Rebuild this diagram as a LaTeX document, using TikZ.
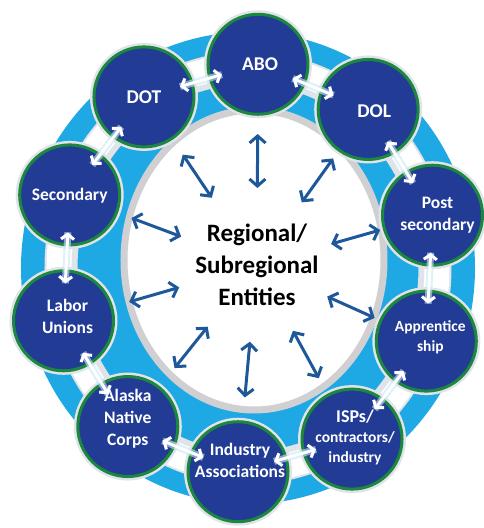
\documentclass[tikz,border=0pt]{standalone}
\usepackage{fontspec}
\setmainfont{Carlito}
\usetikzlibrary{arrows.meta,calc}
\definecolor{bandblue}{RGB}{30,168,228}
\definecolor{nodeblue}{RGB}{34,60,150}
\definecolor{nodegreen}{RGB}{28,135,62}
\definecolor{hubblue}{RGB}{30,88,155}
\definecolor{halogray}{RGB}{224,227,231}
\definecolor{rimgray}{RGB}{208,208,211}
\begin{document}
\begin{tikzpicture}[x=1pt,y=1pt,
  ringnode/.style={circle,fill=nodeblue,draw=nodegreen,line width=3pt,
    minimum size=100pt,inner sep=0pt,preaction={draw=halogray,line width=8pt}},
  ringtext/.style={text=white,align=center,inner sep=0pt,
    font=\bfseries\fontsize{17.5}{22}\selectfont},
  bigtext/.style={ringtext,font=\bfseries\fontsize{19.5}{22}\selectfont},
  smalltext/.style={ringtext,font=\bfseries\fontsize{15.5}{20}\selectfont},
  hubarrow/.style={draw=hubblue,line width=3pt,
    {Straight Barb[length=7pt,width=16pt]}-{Straight Barb[length=7pt,width=16pt]}},
  linkarrow/.style={draw=white,line width=3pt,shorten <=-14pt,shorten >=-14pt,
    {Straight Barb[length=5pt,width=13pt]}-{Straight Barb[length=5pt,width=13pt]},
    preaction={draw=white!75!bandblue,opacity=.6,line width=7pt,-}}]
  \useasboundingbox (-248,-260) rectangle (236,268);
  % light blue band
  \fill[bandblue] (0,0) ellipse [x radius=227, y radius=236];
  % groove along the band
  \draw[halogray,line width=33pt] (0,0) ellipse [x radius=187, y radius=200];
  \draw[white,line width=25pt] (0,0) ellipse [x radius=189, y radius=202];
  % central disc
  \draw[fill=white,draw=rimgray,line width=7pt] (6,8) ellipse [x radius=130, y radius=150];
  % centre text
  \node[align=center,font=\bfseries\fontsize{25}{32}\selectfont] (centre) at (9,3)
    {Regional/\\Subregional\\Entities};
  % ring of partners
  \node[ringnode] (abo) at (87:191pt and 204pt) {};
  \node[ringnode] (dol) at (51:191pt and 204pt) {};
  \node[ringnode] (post) at (15:191pt and 204pt) {};
  \node[ringnode] (appr) at (-21:191pt and 204pt) {};
  \node[ringnode] (isps) at (-57:191pt and 204pt) {};
  \node[ringnode] (ind) at (-93:191pt and 204pt) {};
  \node[ringnode] (anc) at (-129:191pt and 204pt) {};
  \node[ringnode] (labor) at (-165:191pt and 204pt) {};
  \node[ringnode] (second) at (159:191pt and 204pt) {};
  \node[ringnode] (dot) at (123:191pt and 204pt) {};
  % names in the circles
  \node[bigtext] (abotext) at ([xshift=2pt]abo) {ABO};
  \node[bigtext] (doltext) at ([xshift=6pt,yshift=-2pt]dol) {DOL};
  \node[ringtext] (posttext) at ([xshift=5pt]post) {Post\\secondary};
  \node[smalltext] (apprtext) at ([xshift=4pt,yshift=4pt]appr) {Apprentice\\ship};
  \node[smalltext] (ispstext) at ([xshift=3pt,yshift=2pt]isps)
    {{\fontsize{18}{20}\selectfont ISPs/}\\contractors/\\industry};
  \node[ringtext] (indtext) at ([xshift=2pt,yshift=11pt]ind) {Industry\\Associations};
  \node[ringtext] (anctext) at ([yshift=8pt]anc) {Alaska\\Native\\Corps};
  \node[ringtext] (labortext) at ([xshift=4pt,yshift=4pt]labor) {Labor\\Unions};
  \node[ringtext] (secondtext) at ([yshift=-1pt]second) {Secondary};
  \node[bigtext] (dottext) at (dot) {DOT};
  % arrows from the centre
  \draw[hubarrow] ($(centre)!77pt!(abo)$) -- ($(centre)!131pt!(abo)$);
  \draw[hubarrow] ($(centre)!77pt!(dol)$) -- ($(centre)!131pt!(dol)$);
  \draw[hubarrow] ($(centre)!77pt!(post)$) -- ($(centre)!128pt!(post)$);
  \draw[hubarrow] ($(centre)!77pt!(appr)$) -- ($(centre)!129pt!(appr)$);
  \draw[hubarrow] ($(centre)!75pt!(isps)$) -- ($(centre)!129pt!(isps)$);
  \draw[hubarrow] ($(centre)!77pt!(ind)$) -- ($(centre)!133pt!(ind)$);
  \draw[hubarrow] ($(centre)!79pt!(anc)$) -- ($(centre)!132pt!(anc)$);
  \draw[hubarrow] ($(centre)!81pt!(labor)$) -- ($(centre)!133pt!(labor)$);
  \draw[hubarrow] ($(centre)!81pt!(second)$) -- ($(centre)!134pt!(second)$);
  \draw[hubarrow] ($(centre)!81pt!(dot)$) -- ($(centre)!133pt!(dot)$);
  % arrows round the ring
  \draw[linkarrow] (abo) -- (dol);
  \draw[linkarrow] (dol) -- (post);
  \draw[linkarrow] (post) -- (appr);
  \draw[linkarrow] (appr) -- (isps);
  \draw[linkarrow] (isps) -- (ind);
  \draw[linkarrow] (ind) -- (anc);
  \draw[linkarrow] (anc) -- (labor);
  \draw[linkarrow] (labor) -- (second);
  \draw[linkarrow] (second) -- (dot);
  \draw[linkarrow] (dot) -- (abo);
\end{tikzpicture}
\end{document}
